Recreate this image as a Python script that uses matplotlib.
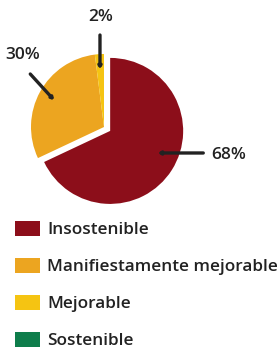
import matplotlib
matplotlib.use("Agg")
import matplotlib.pyplot as plt
from matplotlib.patches import Patch

categories = ["Insostenible", "Manifiestamente mejorable", "Mejorable", "Sostenible"]
values = [68, 30, 2, 0]
colors = ["#8c0e1a", "#eca520", "#f5c412", "#0e7d4b"]
explode = [0.1, 0, 0, 0]
pct_labels = ["68%", "30%", "2%"]

plt.rcParams['font.family'] = ['Open Sans', 'DejaVu Sans']
txt_color = "#222222"

fig = plt.figure(figsize=(2.8, 3.52), dpi=100)
ax = fig.add_axes([0, 0, 1, 1])

# only the non-zero slices are drawn in the pie
shown = [i for i, v in enumerate(values) if v > 0]
wedges, _ = ax.pie([values[i] for i in shown],
                   colors=[colors[i] for i in shown],
                   explode=[explode[i] for i in shown],
                   startangle=90, counterclock=False,
                   wedgeprops=dict(linewidth=0))

# 1 unit = 73 px, pie centre at (104, 127) px from top-left
ax.set_xlim(-104 / 73, 176 / 73)
ax.set_ylim(-225 / 73, 127 / 73)
ax.set_aspect('auto')
ax.axis('off')

arrow = dict(arrowstyle="-|>,head_length=0.12,head_width=0.08",
             color=txt_color, lw=2.4, shrinkA=0, shrinkB=0)
# (text position, line start, line end)
callouts = [
    ((1.71, -0.38), (1.36, -0.356), (0.74, -0.356)),
    ((-1.11, 0.99), (-1.01, 0.726), (-0.685, 0.37)),
    ((-0.04, 1.51), (-0.055, 1.26), (-0.055, 0.795)),
]
for lab, (tpos, start, end) in zip(pct_labels, callouts):
    ax.text(tpos[0], tpos[1], lab, ha='center', va='center',
            fontsize=12.5, fontweight='semibold', color=txt_color)
    ax.annotate("", xy=end, xytext=start, arrowprops=arrow)

handles = [Patch(facecolor=c, edgecolor='none') for c in colors]
leg = fig.legend(handles, categories, loc='upper left',
                 bbox_to_anchor=(0.054, 0.372), frameon=False,
                 prop=dict(size=12.4, weight='semibold'),
                 handlelength=1.46, handleheight=0.95, handletextpad=0.4,
                 labelspacing=1.14, borderpad=0, borderaxespad=0)
for t in leg.get_texts():
    t.set_color(txt_color)

fig.savefig("out.png", dpi=100)
